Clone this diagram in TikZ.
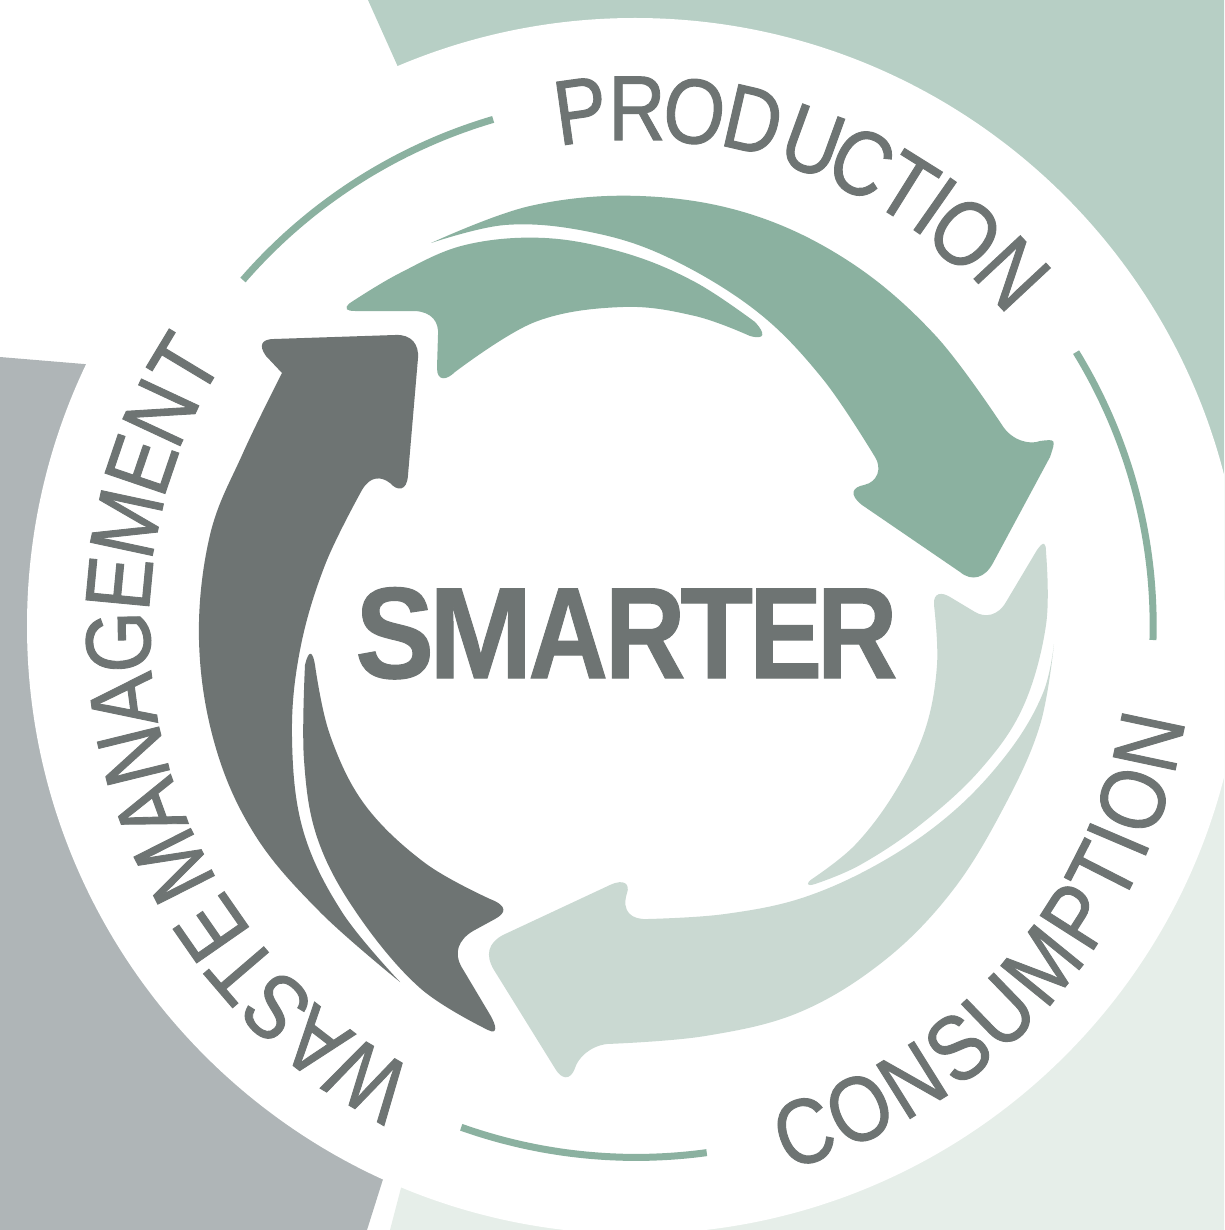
\documentclass[tikz,border=0pt]{standalone}
\usepackage{graphicx}
\usepackage{fontspec}
\setmainfont{Liberation Sans}
\newfontfamily\ltrfont{Liberation Sans}[RawFeature={embolden=1.1}]
\newfontfamily\wordfont{Liberation Sans}[BoldFeatures={RawFeature={embolden=0.8}}]
\definecolor{cgreen}{HTML}{8BB1A0}
\definecolor{clight}{HTML}{CAD9D2}
\definecolor{ctop}{HTML}{B7CFC5}
\definecolor{cpale}{HTML}{E6EEE9}
\definecolor{cgrey}{HTML}{AFB5B7}
\definecolor{cdark}{HTML}{6E7473}
\tikzset{
  ltr/.style={anchor=base,inner sep=0pt,text=cdark,font=\ltrfont\fontsize{92}{92}\selectfont},
  ringarc/.style={draw=cgreen,line width=7pt,line cap=butt},
  longedge/.style={smooth,tension=0.62}
}
\newcommand{\lett}[1]{\scalebox{0.86}[1]{#1}}
\newcommand{\wl}[3]{\makebox[#1pt][c]{\scalebox{#2}[1]{#3}}}
\begin{document}
\begin{tikzpicture}[x=1pt,y=-1pt]
\useasboundingbox (0,0) rectangle (1224,1230);
\clip (0,0) rectangle (1224,1230);
% background blocks
\fill[ctop] (368,0) -- (450,183) -- (800,500) -- (1224,600) -- (1224,0) -- cycle;
\fill[cpale] (1224,650) -- (1224,1230) -- (390,1230) -- (450,1000) -- (900,800) -- cycle;
\fill[cgrey] (0,357) -- (300,382) -- (430,1030) -- (367,1230) -- (0,1230) -- cycle;
\fill[white] (635,626) circle[radius=608pt];
% ring arcs
\draw[ringarc] plot[domain=222.3:254.9,samples=40] ({632+(526+0.215*(\x-222.3))*cos(\x)},{634+(526+0.215*(\x-222.3))*sin(\x)});
\draw[ringarc] plot[domain=-32.4:0.66,samples=40] ({632+(526-0.151*(\x+32.4))*cos(\x)},{634+(526-0.151*(\x+32.4))*sin(\x)});
\draw[ringarc] plot[domain=81.8:109.1,samples=40] ({632+(524-0.073*(\x-81.8))*cos(\x)},{634+(524-0.073*(\x-81.8))*sin(\x)});
% green arrow: outer blade with head
\fill[cgreen] plot[longedge] coordinates {(431,243) (530,206) (640,196) (750,214) (850,262) (935,335) (1002,425)}
  .. controls (1012,441) and (1030,445) .. (1040,441)
  .. controls (1056,439) .. (1050,457) -- (993,563)
  .. controls (985,578) and (972,582) .. (960,572) -- (862,505)
  .. controls (848,494) and (853,487) .. (864,485)
  .. controls (878,482) and (882,468) .. (875,457)
  -- plot[longedge] coordinates {(875,457) (822,378) (755,310) (665,256) (585,231) (505,225) (431,243)} -- cycle;
% green arrow: barb fin
\fill[cgreen] (355,311) -- (415,311)
  .. controls (432,312) and (439,322) .. (438,335) -- (437,368)
  .. controls (437,382) and (447,380) .. (455,372)
  -- plot[longedge] coordinates {(455,372) (535,322) (623,307) (695,316) (750,336)}
  .. controls (765,340) and (766,334) .. (755,322)
  -- plot[longedge] coordinates {(755,322) (695,282) (625,253) (545,238) (465,245) (400,273) (350,303)}
  .. controls (343,309) and (347,311) .. (355,311) -- cycle;
% light arrow: inner blade
\fill[clight] (1037,550) .. controls (1044,540) and (1046,543) .. (1046,552)
  -- plot[longedge] coordinates {(1046,552) (1046,625) (1023,707) (980,770) (920,825) (860,865) (815,884)}
  .. controls (806,887) and (806,883) .. (812,879)
  -- plot[longedge] coordinates {(812,879) (855,845) (895,792) (925,730) (937,665) (934,605)}
  .. controls (933,592) and (942,592) .. (950,597) -- (975,612)
  .. controls (985,618) and (998,616) .. (1006,602) -- cycle;
% light arrow: outer blade with head
\fill[clight] plot[longedge] coordinates {(1054,644) (1040,725) (1005,805) (953,890) (885,960) (800,1012) (705,1036) (607,1044)}
  .. controls (590,1046) and (578,1058) .. (575,1068)
  .. controls (570,1082) and (561,1078) .. (556,1070) -- (494,970)
  .. controls (485,955) and (488,943) .. (503,935) -- (610,885)
  .. controls (625,878) and (630,885) .. (627,893)
  .. controls (621,912) and (632,920) .. (648,919)
  -- plot[longedge] coordinates {(648,919) (725,914) (805,897) (885,860) (955,810) (1010,750) (1043,693) (1054,644)} -- cycle;
% dark arrow: outer blade with head
\fill[cdark] plot[longedge] coordinates {(400,982) (320,912) (255,835) (215,745) (199,640) (210,535) (243,453) (282,373)}
  -- (266,356) .. controls (258,345) and (262,339) .. (274,339) -- (395,335)
  .. controls (412,334) and (419,345) .. (418,358) -- (408,475)
  .. controls (407,492) and (397,491) .. (390,483)
  .. controls (381,476) and (370,476) .. (362,490)
  -- plot[longedge] coordinates {(362,490) (325,565) (300,650) (292,737) (303,830) (342,912) (400,982)} -- cycle;
% dark arrow: inner blade
\fill[cdark] (305,665) .. controls (309,648) and (313,652) .. (315,665)
  -- plot[longedge] coordinates {(315,665) (330,735) (365,805) (425,863) (490,899)}
  .. controls (508,906) and (506,913) .. (495,919) -- (473,931)
  .. controls (458,940) and (454,953) .. (461,966) -- (489,1013)
  .. controls (497,1026) and (498,1035) .. (488,1030)
  -- plot[longedge] coordinates {(488,1030) (420,988) (358,915) (318,840) (304,760) (305,665)} -- cycle;
% centre word
\node[name=word,inner sep=0pt,anchor=base west,text=cdark] at (350,678) {\wordfont\fontsize{130}{130}\selectfont\bfseries\wl{89}{.91}{S}\wl{83}{.96}{M}\wl{92}{.85}{A}\wl{62}{.86}{R}\wl{81}{.92}{T}\wl{57}{.84}{E}\wl{86}{.86}{R}};
% PRODUCTION
\foreach \ch/\px/\py/\rt [count=\i] in {P/585/142/8,R/637/140/0,O/690/143/-8,D/746/151/-13,U/802/171/-20,C/847/191/-27,T/890/214/-32,I/917/232/-35,O/945/258/-40,N/989/295/-47}
  \node[ltr,rotate=\rt,name=p\i] at (\px,\py) {\lett{\ch}};
% WASTE MANAGEMENT
\foreach \ch/\th [count=\i] in {W/149.5,A/142.3,S/136.3,T/130.6,E/124.8,M/116.8,A/110,N/103.8,A/97.6,G/91.1,E/84.6,M/77.9,E/71.2,N/65,T/59}
  \node[ltr,rotate=\th,name=w\i] at ({638+0.25*min(\th-90,0)-0.25*max(\th-125,0)-488*sin(\th)},{632-488*cos(\th)}) {\lett{\ch}};
% CONSUMPTION
\foreach \ch/\th [count=\i] in {C/19,O/25.5,N/32,S/38.1,U/44.1,M/50.9,P/57.5,T/63,I/66.9,O/71.5,N/78}
  \node[ltr,rotate=\th,name=c\i] at ({632+560*sin(\th)},{632+560*cos(\th)}) {\lett{\ch}};
\end{tikzpicture}
\end{document}
